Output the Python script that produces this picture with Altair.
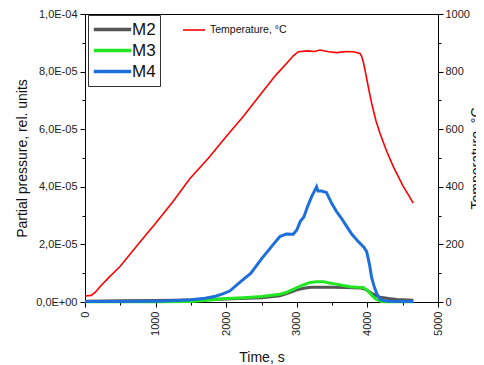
import altair as alt
import pandas as pd

FONT = "Liberation Sans"

# ---- data (gas values in units of 1e-5) ----
m2_time = [0, 500, 1000, 1500, 2000, 2500, 2760, 2900, 3000, 3100, 3200, 3350, 3500, 3700, 3900, 3960, 4010, 4060, 4120, 4180, 4300, 4415, 4650]
m2_vals = [0.03, 0.04, 0.05, 0.07, 0.10, 0.15, 0.22, 0.33, 0.42, 0.48, 0.51, 0.51, 0.51, 0.50, 0.49, 0.45, 0.38, 0.30, 0.22, 0.17, 0.12, 0.09, 0.06]

m3_time = [0, 500, 1000, 1500, 1700, 2000, 2250, 2500, 2760, 2850, 3000, 3100, 3190, 3280, 3380, 3460, 3560, 3660, 3760, 3860, 3940, 4000, 4060, 4120, 4180, 4230, 4400, 4650]
m3_vals = [0.01, 0.01, 0.01, 0.02, 0.05, 0.12, 0.15, 0.19, 0.27, 0.33, 0.50, 0.60, 0.68, 0.705, 0.70, 0.66, 0.62, 0.57, 0.53, 0.51, 0.50, 0.40, 0.24, 0.10, 0.03, 0.01, 0.01, 0.01]

m4_time = [0, 500, 1000, 1300, 1500, 1700, 1850, 1950, 2050, 2200, 2350, 2500, 2650, 2760, 2850, 2950, 3000, 3050, 3100, 3150, 3210, 3260, 3280, 3300, 3350, 3420, 3460, 3500, 3560, 3620, 3700, 3780, 3870, 3950, 3990, 4030, 4060, 4100, 4140, 4180, 4230, 4300, 4450, 4650]
m4_vals = [0.02, 0.02, 0.03, 0.05, 0.08, 0.13, 0.20, 0.28, 0.38, 0.70, 1.00, 1.50, 1.95, 2.27, 2.36, 2.35, 2.50, 2.80, 2.95, 3.30, 3.66, 3.90, 4.00, 3.85, 3.85, 3.80, 3.60, 3.40, 3.15, 2.95, 2.65, 2.35, 2.10, 1.90, 1.75, 1.30, 0.85, 0.50, 0.25, 0.10, 0.05, 0.03, 0.02, 0.02]

temp_time = [0, 90, 150, 212, 350, 496, 750, 1006, 1250, 1487, 1750, 1997, 2250, 2479, 2700, 2857, 2950, 3022, 3150, 3250, 3329, 3450, 3565, 3706, 3820, 3895, 3920, 3945, 3966, 4010, 4060, 4120, 4178, 4270, 4367, 4500, 4650]
temp_vals = [21, 23, 35, 53, 88, 123, 200, 275, 350, 429, 500, 574, 647, 719, 787, 829, 855, 869, 872, 870, 875, 869, 866, 870, 868, 863, 852, 830, 806, 750, 690, 630, 586, 525, 470, 405, 343]

gas_names = ["M2", "M3", "M4"]
gas_colors = ["#555555", "#22e622", "#1f6fda"]
temp_name = "Temperature, °C"

x_ticks = [0, 500, 1000, 1500, 2000, 2500, 3000, 3500, 4000, 4500, 5000]
y_ticks = [0, 1e-5, 2e-5, 3e-5, 4e-5, 5e-5, 6e-5, 7e-5, 8e-5, 9e-5, 1e-4]
y_tick_labels = ["0,0E+00", "2,0E-05", "4,0E-05", "6,0E-05", "8,0E-05", "1,0E-04"]
t_ticks = [0, 100, 200, 300, 400, 500, 600, 700, 800, 900, 1000]

rows = []
for name, ts, vs in [("M2", m2_time, m2_vals), ("M3", m3_time, m3_vals), ("M4", m4_time, m4_vals)]:
    for t, v in zip(ts, vs):
        rows.append({"series": name, "time": t, "value": v * 1e-5})
gas_df = pd.DataFrame(rows)
temp_df = pd.DataFrame({"series": temp_name, "time": temp_time, "temp": temp_vals})

lab_list = "[" + ",".join("'" + s + "'" for s in y_tick_labels) + "]"

common_axis = dict(grid=False, domainColor="black", tickColor="black", labelColor="#222",
                   labelFont=FONT, labelFontSize=11, titleFont=FONT, titleFontSize=14,
                   titleFontWeight="normal", titleColor="#111")

x_axis = alt.Axis(values=x_ticks, labelAngle=270, title="Time, s",
                  labelExpr="datum.value % 1000 == 0 ? format(datum.value, 'd') : ''",
                  tickSize={"condition": {"test": "datum.value % 1000 != 0", "value": 3}, "value": 5},
                  labelPadding=4, titlePadding=15, **common_axis)

y_axis = alt.Axis(orient="left", values=y_ticks, title="Partial pressure, rel. units",
                  labelExpr="round(datum.value*1e5) % 2 == 0 ? " + lab_list + "[round(datum.value*5e4)] : ''",
                  tickSize={"condition": {"test": "round(datum.value*1e5) % 2 != 0", "value": 3}, "value": 5},
                  labelPadding=3, titlePadding=6, **common_axis)

t_axis = alt.Axis(orient="right", values=t_ticks, title="Temperature, °C", titleAngle=270,
                  titleBaseline="top",
                  labelExpr="datum.value % 200 == 0 ? format(datum.value, 'd') : ''",
                  tickSize={"condition": {"test": "datum.value % 200 != 0", "value": 3}, "value": 5},
                  labelPadding=2, titlePadding=0, **common_axis)

x_enc = alt.X("time:Q", scale=alt.Scale(domain=[0, 5000], nice=False), axis=x_axis)

gas = alt.Chart(gas_df).mark_line(strokeWidth=3).encode(
    x=x_enc,
    y=alt.Y("value:Q", scale=alt.Scale(domain=[0, 1e-4], nice=False), axis=y_axis),
    color=alt.Color("series:N", scale=alt.Scale(domain=gas_names, range=gas_colors),
                    legend=alt.Legend(orient="none", legendX=3, legendY=1, title=None,
                                      symbolType="M-3.4,0H3.4", symbolSize=121, symbolStrokeWidth=3.5,
                                      symbolOffset=12, clipHeight=21,
                                      labelFont=FONT, labelFontSize=17, labelColor="#111",
                                      labelExpr="datum.label + '\u00a0\u00a0\u00a0'",
                                      strokeColor="#333", fillColor="white", padding=4,
                                      rowPadding=0, labelOffset=11)),
)

temp = alt.Chart(temp_df).mark_line(strokeWidth=1.6).encode(
    x=x_enc,
    y=alt.Y("temp:Q", scale=alt.Scale(domain=[0, 1000], nice=False), axis=t_axis),
    color=alt.Color("series:N", scale=alt.Scale(domain=[temp_name], range=["#ff0000"]),
                    legend=alt.Legend(orient="none", legendX=97, legendY=4, title=None,
                                      symbolType="stroke", symbolSize=484, symbolStrokeWidth=1.6,
                                      labelFont=FONT, labelFontSize=10.5, labelColor="#111",
                                      padding=0, labelOffset=4)),
)

chart = alt.layer(gas, temp).resolve_scale(y="independent", color="independent").properties(
    width=353, height=288,
    autosize=alt.AutoSizeParams(type="none"),
    padding={"left": 77, "top": 6, "right": 38, "bottom": 62},
).configure_view(stroke="black", strokeWidth=1)

chart.save("out.html", embed_options={"renderer": "svg", "actions": False})
